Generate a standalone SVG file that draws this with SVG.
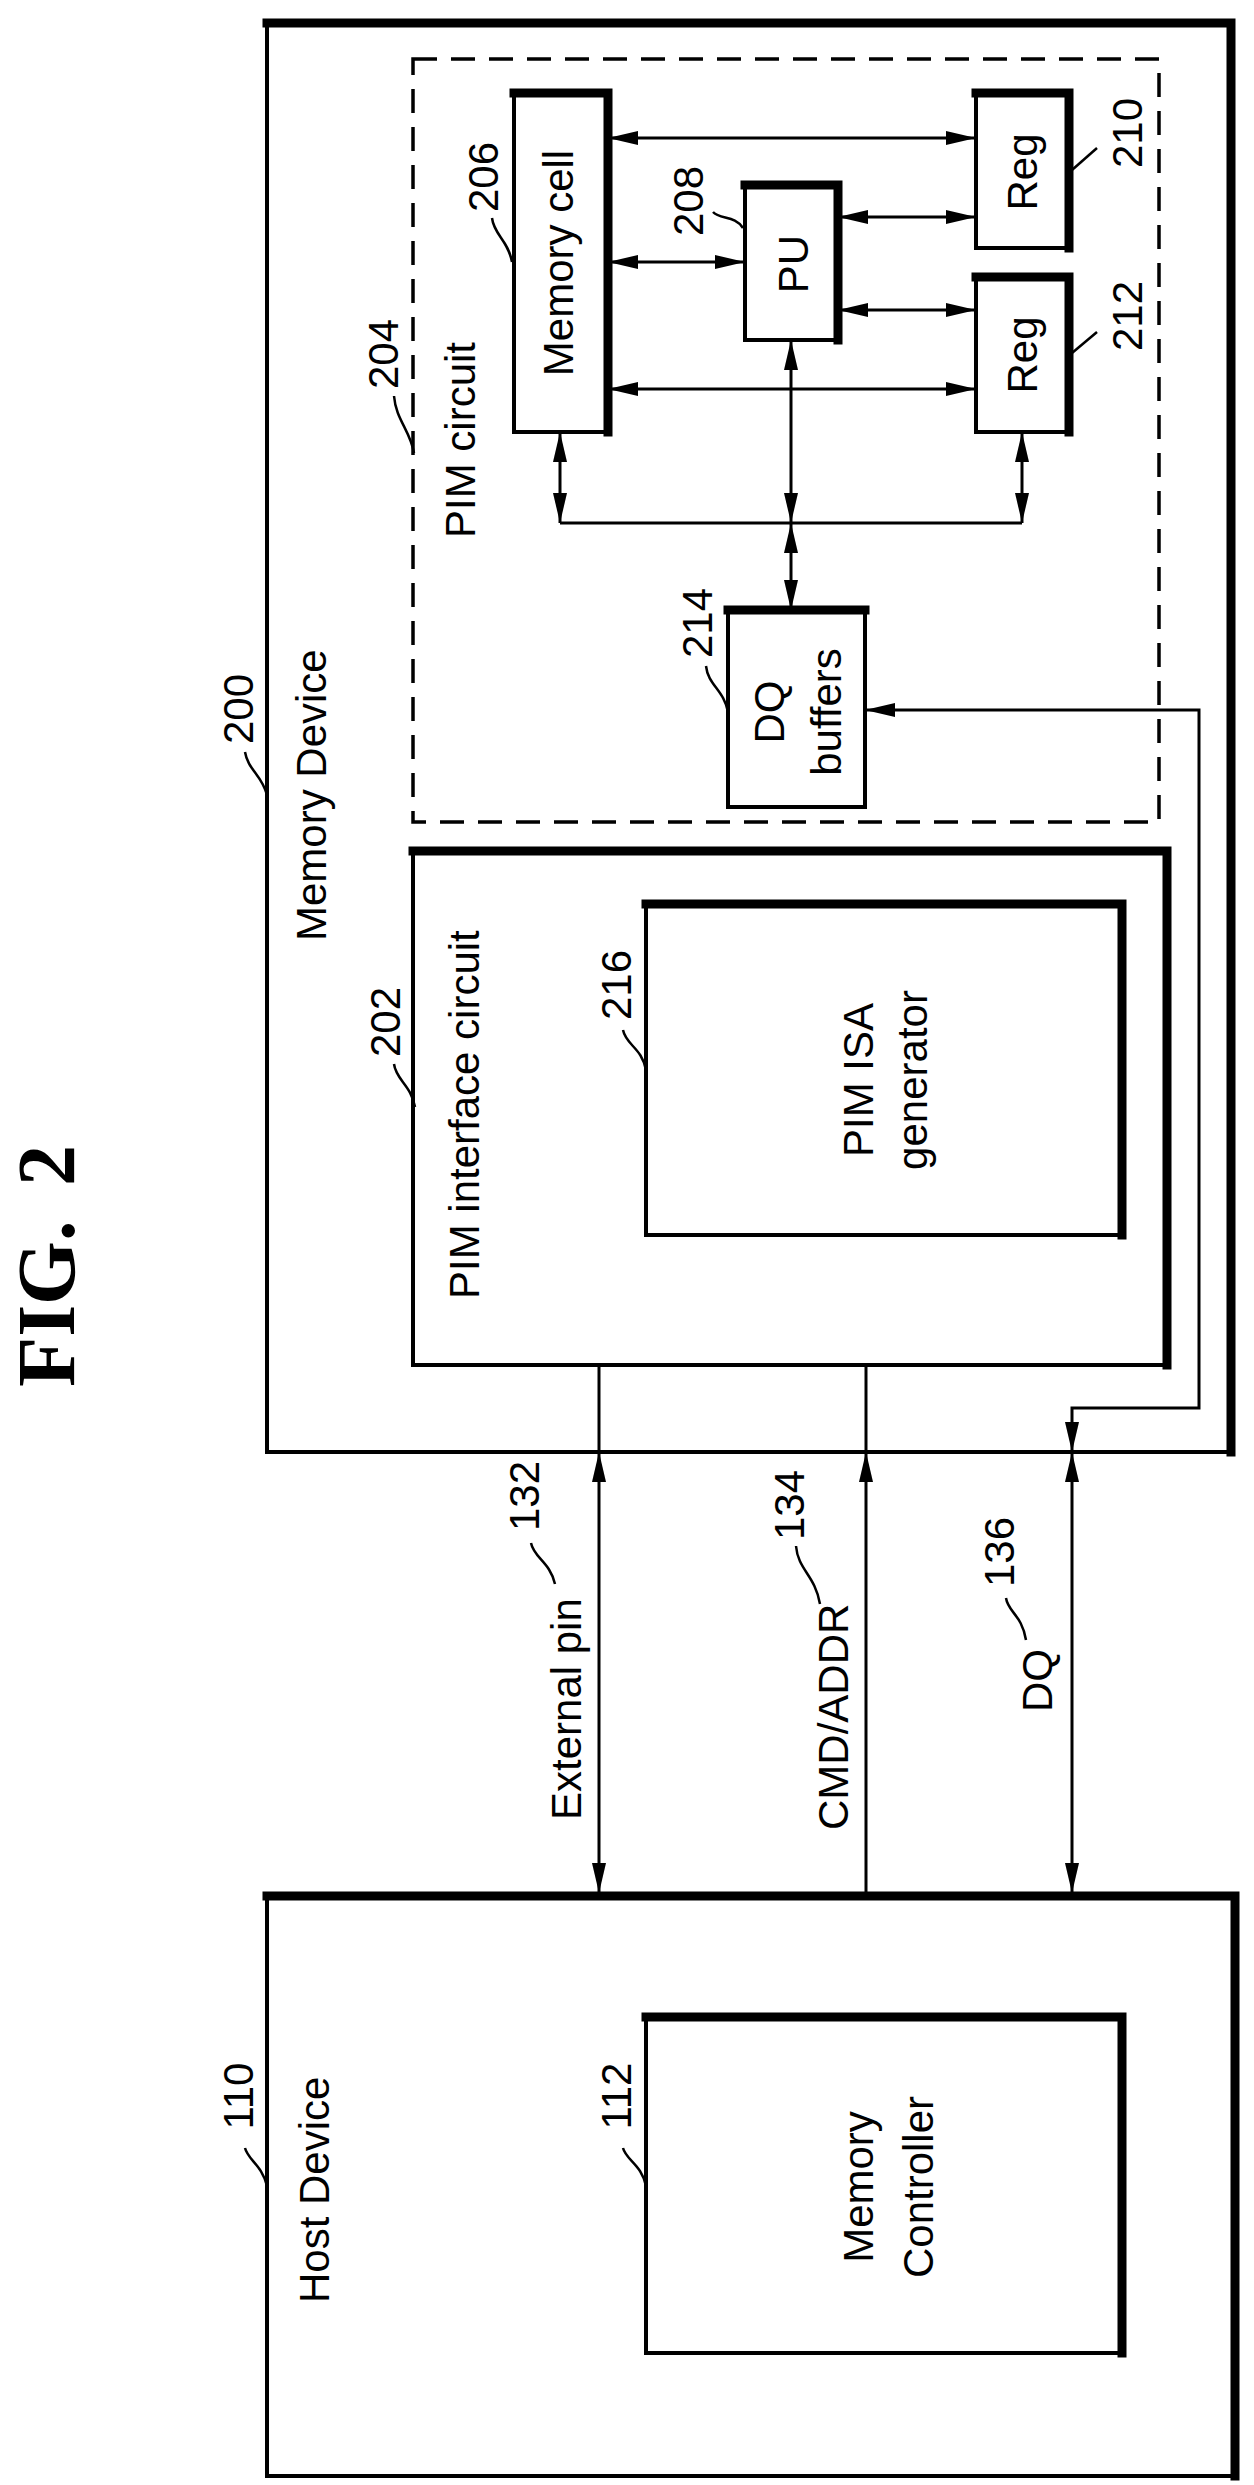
<svg xmlns="http://www.w3.org/2000/svg" width="1254" height="2485" viewBox="0 0 1254 2485">
<defs>
<marker id="ah" markerUnits="userSpaceOnUse" markerWidth="30" markerHeight="14" refX="30" refY="7" orient="auto-start-reverse"><path d="M0,0 L30,7 L0,14 z" fill="#000"/></marker>
</defs>
<style>
.box{fill:none;stroke:#000;stroke-width:4}
.thk{fill:none;stroke:#000;stroke-width:9;stroke-linecap:square}
.dash{fill:none;stroke:#000;stroke-width:3.5;stroke-dasharray:24 14}
.ln{fill:none;stroke:#000;stroke-width:3}
.ar{fill:none;stroke:#000;stroke-width:3;marker-start:url(#ah);marker-end:url(#ah)}
.ae{fill:none;stroke:#000;stroke-width:3;marker-end:url(#ah)}
.ld{fill:none;stroke:#000;stroke-width:2.5}
text{font-family:"Liberation Sans",Arial,sans-serif;font-size:42px;fill:#000}
.m{text-anchor:middle}
.fig{font-family:"Liberation Serif","Times New Roman",serif;font-weight:bold;font-size:82px;word-spacing:14px}
</style>
<rect width="1254" height="2485" fill="#fff"/>
<text class="fig m" transform="translate(74,1266) rotate(-90)">FIG. 2</text>

<g id="n200">
<rect class="box" x="267" y="23" width="965" height="1429"/>
<path class="thk" d="M267,23 H1231 V1452"/>
<text transform="translate(326,941) rotate(-90)">Memory Device</text>
<text class="m" transform="translate(253,709) rotate(-90)">200</text>
<path class="ld" d="M267,795 C262,775 248,770 245,752"/>
</g>

<g id="n204">
<rect class="dash" x="413" y="59" width="746" height="763"/>
<text transform="translate(475,538) rotate(-90)">PIM circuit</text>
<text class="m" transform="translate(398,354) rotate(-90)">204</text>
<path class="ld" d="M414,453 C410,430 396,420 394,396"/>
</g>

<g id="n206">
<rect class="box" x="514" y="93" width="94" height="339"/>
<path class="thk" d="M514,93 H608 V432"/>
<text class="m" transform="translate(573,263) rotate(-90)">Memory cell</text>
<text class="m" transform="translate(498,177) rotate(-90)">206</text>
<path class="ld" d="M512,262 C508,240 494,235 492,218"/>
</g>

<g id="n208">
<rect class="box" x="745" y="185" width="93" height="155"/>
<path class="thk" d="M745,185 H838 V340"/>
<text class="m" transform="translate(808,264) rotate(-90)">PU</text>
<text class="m" transform="translate(703,201) rotate(-90)">208</text>
<path class="ld" d="M743,228 C735,215 720,220 713,212"/>
</g>

<g id="n210">
<rect class="box" x="976" y="93" width="93" height="155"/>
<path class="thk" d="M976,93 H1069 V248"/>
<text class="m" transform="translate(1037,172) rotate(-90)">Reg</text>
<text class="m" transform="translate(1142,133) rotate(-90)">210</text>
<path class="ld" d="M1072,170 L1097,148"/>
</g>

<g id="n212">
<rect class="box" x="976" y="277" width="93" height="155"/>
<path class="thk" d="M976,277 H1069 V432"/>
<text class="m" transform="translate(1037,355) rotate(-90)">Reg</text>
<text class="m" transform="translate(1142,316) rotate(-90)">212</text>
<path class="ld" d="M1072,353 L1097,332"/>
</g>

<g id="n214">
<rect class="box" x="728" y="610" width="137" height="197"/>
<path class="thk" d="M728,610 H865"/>
<text class="m" transform="translate(784,712) rotate(-90)">DQ</text>
<text class="m" transform="translate(841,712) rotate(-90)">buffers</text>
<text class="m" transform="translate(712,623) rotate(-90)">214</text>
<path class="ld" d="M728,712 C724,690 708,685 706,666"/>
</g>

<g id="n202">
<rect class="box" x="413" y="851" width="754" height="514"/>
<path class="thk" d="M413,851 H1167 V1365"/>
<text transform="translate(479,1299) rotate(-90)">PIM interface circuit</text>
<text class="m" transform="translate(400,1022) rotate(-90)">202</text>
<path class="ld" d="M415,1107 C411,1085 396,1080 394,1064"/>
</g>

<g id="n216">
<rect class="box" x="646" y="904" width="476" height="331"/>
<path class="thk" d="M646,904 H1122 V1235"/>
<text class="m" transform="translate(873,1080) rotate(-90)">PIM ISA</text>
<text class="m" transform="translate(927,1080) rotate(-90)">generator</text>
<text class="m" transform="translate(631,985) rotate(-90)">216</text>
<path class="ld" d="M646,1070 C642,1048 626,1045 623,1030"/>
</g>

<g id="n110">
<rect class="box" x="267" y="1896" width="968" height="580"/>
<path class="thk" d="M267,1896 H1235 V2476"/>
<text transform="translate(329,2303) rotate(-90)">Host Device</text>
<text class="m" transform="translate(253,2096) rotate(-90)">110</text>
<path class="ld" d="M267,2186 C262,2165 248,2160 245,2148"/>
</g>

<g id="n112">
<rect class="box" x="646" y="2017" width="476" height="336"/>
<path class="thk" d="M646,2017 H1122 V2353"/>
<text class="m" transform="translate(873,2187) rotate(-90)">Memory</text>
<text class="m" transform="translate(933,2187) rotate(-90)">Controller</text>
<text class="m" transform="translate(631,2096) rotate(-90)">112</text>
<path class="ld" d="M646,2186 C642,2165 626,2160 623,2148"/>
</g>

<g id="connectors">
<path class="ar" d="M608,138 H976"/>
<path class="ar" d="M608,262 H745"/>
<path class="ar" d="M838,217 H976"/>
<path class="ar" d="M838,310 H976"/>
<path class="ar" d="M608,389 H976"/>
<path class="ar" d="M560,432 V523"/>
<path class="ar" d="M1022,432 V523"/>
<path class="ln" d="M560,523 H1022"/>
<path class="ar" d="M791,340 V523"/>
<path class="ar" d="M791,523 V610"/>
<path class="ar" d="M1072,1452 V1408 H1199 V710 H865"/>
<path class="ln" d="M599,1365 V1452"/>
<path class="ar" d="M599,1452 V1893"/>
<path class="ln" d="M866,1365 V1452"/>
<path class="ae" d="M866,1893 V1452"/>
<path class="ar" d="M1072,1452 V1893"/>
<text transform="translate(581,1820) rotate(-90)">External pin</text>
<text transform="translate(848,1830) rotate(-90)">CMD/ADDR</text>
<text transform="translate(1052,1712) rotate(-90)">DQ</text>
<text class="m" transform="translate(539,1496) rotate(-90)">132</text>
<text class="m" transform="translate(804,1505) rotate(-90)">134</text>
<text class="m" transform="translate(1014,1552) rotate(-90)">136</text>
<path class="ld" d="M555,1584 C550,1562 534,1558 531,1543"/>
<path class="ld" d="M820,1604 C815,1575 798,1570 796,1546"/>
<path class="ld" d="M1026,1640 C1022,1615 1008,1612 1006,1598"/>
</g>
</svg>
